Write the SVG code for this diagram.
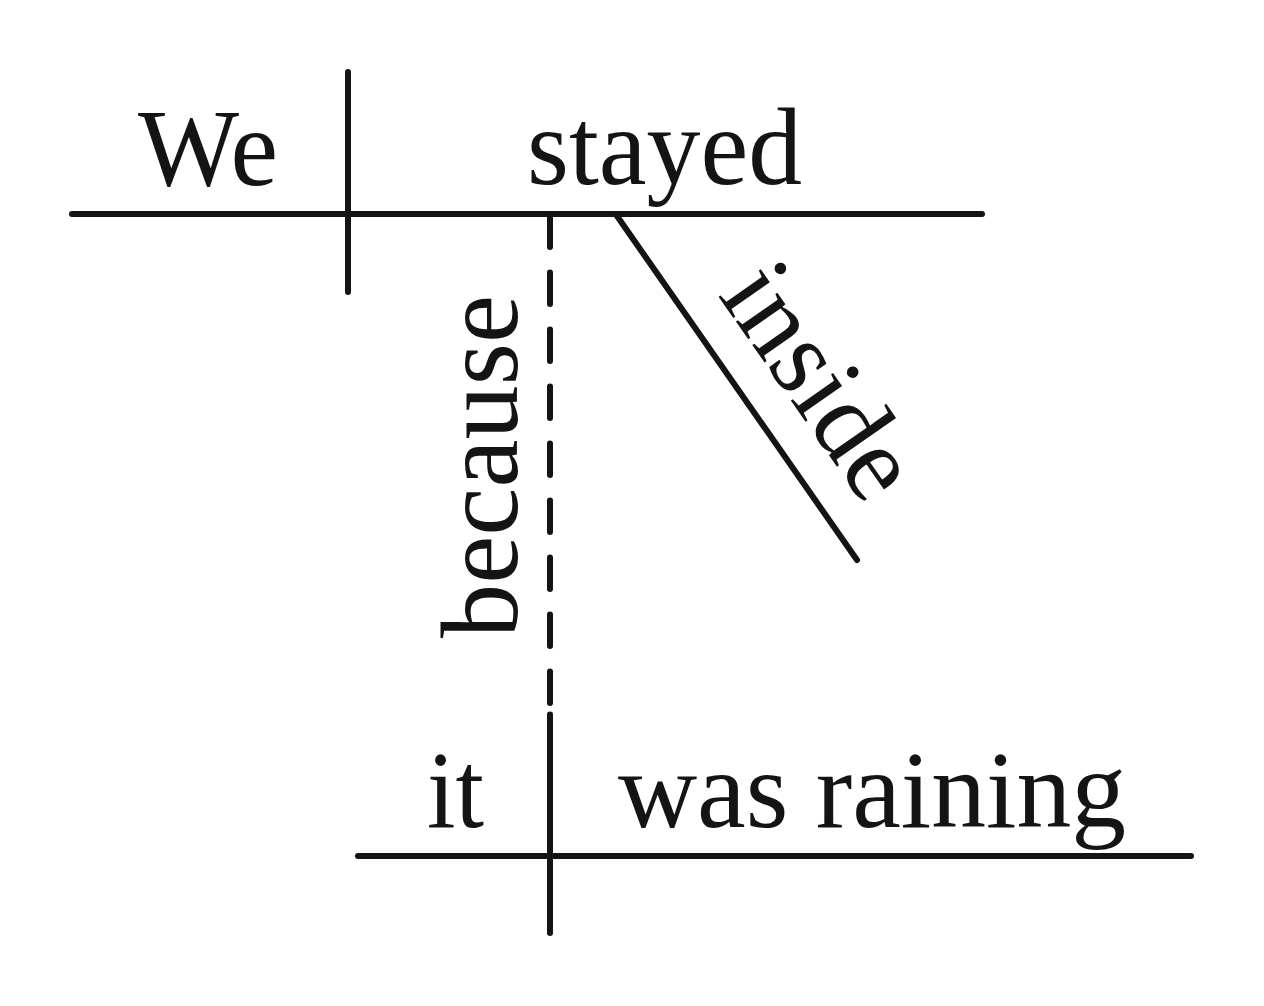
<svg xmlns="http://www.w3.org/2000/svg" width="1264" height="1006" viewBox="0 0 1264 1006">
<style>
.ln{stroke:#141414;stroke-width:6;stroke-linecap:round;fill:none}
.dash{stroke-dasharray:31.5 25.5}
.t{font-family:"Liberation Serif","Times New Roman",serif;font-size:110px;fill:#141414}
</style>
<rect width="1264" height="1006" fill="#ffffff"/>
<g id="connectors">
<line class="ln" x1="72" y1="214" x2="982" y2="214"/>
<line class="ln" x1="348" y1="72" x2="348" y2="292"/>
<line class="ln dash" x1="550" y1="215.5" x2="550" y2="703.5"/>
<line class="ln" x1="617" y1="216" x2="857" y2="560"/>
<line class="ln" x1="550" y1="714.5" x2="550" y2="933"/>
<line class="ln" x1="358" y1="856" x2="1191" y2="856"/>
</g>
<g id="node-we"><text class="t" x="138" y="185" textLength="140" lengthAdjust="spacingAndGlyphs">We</text></g>
<g id="node-stayed"><text class="t" x="527" y="184" textLength="275" lengthAdjust="spacingAndGlyphs">stayed</text></g>
<g id="node-because"><text class="t" transform="translate(517,638) rotate(-90)" x="0" y="0" textLength="343" lengthAdjust="spacingAndGlyphs">because</text></g>
<g id="node-inside"><text class="t" transform="translate(617,216) rotate(55.1)" x="122" y="-37" textLength="259" lengthAdjust="spacingAndGlyphs">inside</text></g>
<g id="node-it"><text class="t" x="427" y="827" textLength="57" lengthAdjust="spacingAndGlyphs">it</text></g>
<g id="node-was-raining"><text class="t" x="618" y="827" textLength="508" lengthAdjust="spacingAndGlyphs">was raining</text></g>
</svg>
